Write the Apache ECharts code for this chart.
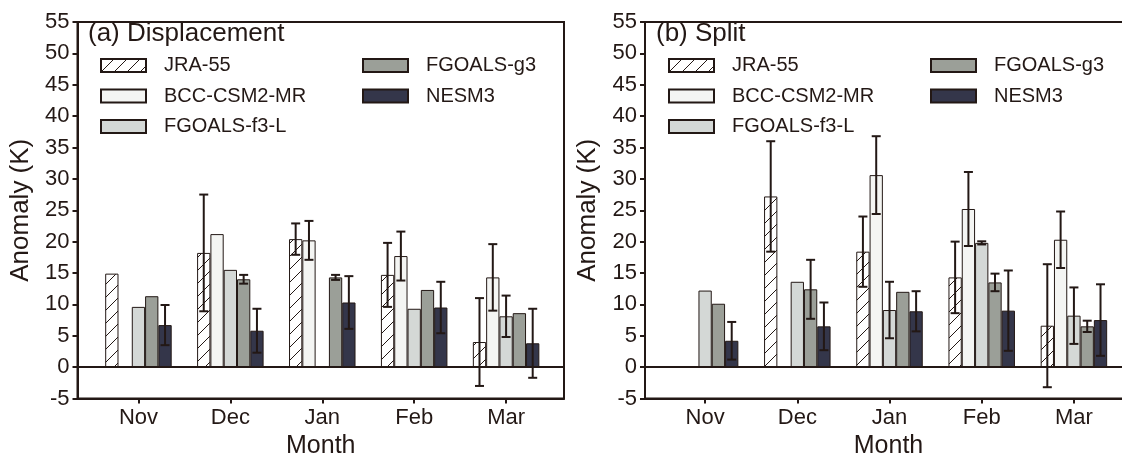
<!DOCTYPE html>
<html lang="en">
<head>
<meta charset="UTF-8">
<title>Anomaly by month</title>
<script src="https://cdn.jsdelivr.net/npm/echarts@6/dist/echarts.min.js"></script>
<style>
  html, body { margin: 0; padding: 0; background: #fff; }
  #main { width: 1122px; height: 457px; }
</style>
</head>
<body>
<div id="main"></div>
<script>
// categories
var months = ['Nov', 'Dec', 'Jan', 'Feb', 'Mar'];
var models = ['JRA-55', 'BCC-CSM2-MR', 'FGOALS-f3-L', 'FGOALS-g3', 'NESM3'];
var yTicks = [-5, 55, 5]; // min, max, step

// (a) Displacement: mean and error (null = no bar / no error bar)
var dispJRA     = [14.9, 18.2, 20.4, 14.7, 4.0];
var dispJRAErr  = [null, 9.3, 2.5, 5.1, 7.0];
var dispBCC     = [null, 21.2, 20.2, 17.7, 14.3];
var dispBCCErr  = [null, null, 3.1, 3.9, 5.3];
var dispF3L     = [9.6, 15.5, null, 9.3, 8.1];
var dispF3LErr  = [null, null, null, null, 3.3];
var dispG3      = [11.3, 14.0, 14.3, 12.3, 8.6];
var dispG3Err   = [null, 0.7, 0.4, null, null];
var dispNESM    = [6.7, 5.8, 10.3, 9.5, 3.8];
var dispNESMErr = [3.2, 3.5, 4.2, 4.1, 5.5];

// (b) Split
var splitJRA     = [null, 27.2, 18.4, 14.3, 6.6];
var splitJRAErr  = [null, 8.8, 5.6, 5.7, 9.8];
var splitBCC     = [null, null, 30.6, 25.2, 20.3];
var splitBCCErr  = [null, null, 6.2, 5.9, 4.5];
var splitF3L     = [12.2, 13.6, 9.1, 19.8, 8.2];
var splitF3LErr  = [null, null, 4.5, 0.25, 4.5];
var splitG3      = [10.1, 12.4, 12.0, 13.5, 6.5];
var splitG3Err   = [null, 4.7, null, 1.4, 0.9];
var splitNESM    = [4.2, 6.5, 8.9, 9.0, 7.5];
var splitNESMErr = [3.0, 3.8, 3.2, 6.4, 5.7];

var INK = '#231815';
var FONT = '"Liberation Sans", Arial, sans-serif';
var BAR_W = 13.3;

// hatch pattern for JRA-55
function hatch() {
    var s = 13;
    var c = document.createElement('canvas');
    c.width = s; c.height = s;
    var g = c.getContext('2d');
    g.fillStyle = '#ffffff';
    g.fillRect(0, 0, s, s);
    g.strokeStyle = INK;
    g.lineWidth = 1;
    g.beginPath();
    g.moveTo(0, s); g.lineTo(s, 0);
    g.moveTo(-1, 1); g.lineTo(1, -1);
    g.moveTo(s - 1, s + 1); g.lineTo(s + 1, s - 1);
    g.stroke();
    return { image: c, repeat: 'repeat' };
}
var fills = [hatch(), '#f4f5f3', '#d4d8d6', '#9b9f98', '#34364a'];

function pairs(vals) {
    return vals.map(function (v, i) { return [i + 1, v == null ? '-' : v]; });
}
function errRows(means, errs, k) {
    var out = [];
    for (var i = 0; i < means.length; i++) {
        if (means[i] != null && errs[i] != null) out.push([i + 1, means[i], errs[i], k]);
    }
    return out;
}

function renderErr(params, api) {
    var x = api.value(0), m = api.value(1), e = api.value(2), k = api.value(3);
    var hi = api.coord([x, m + e]);
    var lo = api.coord([x, m - e]);
    var cx = hi[0] + (k - 2) * BAR_W;
    var cap = 4.5;
    var st = { stroke: INK, lineWidth: 2 };
    return {
        type: 'group',
        children: [
            { type: 'line', shape: { x1: cx, y1: hi[1], x2: cx, y2: lo[1] }, style: st },
            { type: 'line', shape: { x1: cx - cap, y1: hi[1], x2: cx + cap, y2: hi[1] }, style: st },
            { type: 'line', shape: { x1: cx - cap, y1: lo[1], x2: cx + cap, y2: lo[1] }, style: st }
        ]
    };
}

function panelSeries(idx, means, errs) {
    var list = [];
    var errData = [];
    means.forEach(function (vals, k) {
        var s = {
            name: models[k],
            type: 'bar',
            xAxisIndex: idx,
            yAxisIndex: idx,
            barWidth: BAR_W,
            barGap: '0%',
            data: pairs(vals),
            itemStyle: { color: fills[k], borderColor: INK, borderWidth: 1 },
            emphasis: { disabled: true },
            z: 2
        };
        if (k === 0) {
            s.markLine = {
                silent: true,
                symbol: 'none',
                label: { show: false },
                lineStyle: { color: INK, width: 2, type: 'solid' },
                data: [{ yAxis: 0 }],
                z: 4
            };
        }
        list.push(s);
        errData = errData.concat(errRows(vals, errs[k], k));
    });
    list.push({
        type: 'custom',
        xAxisIndex: idx,
        yAxisIndex: idx,
        renderItem: renderErr,
        data: errData,
        encode: { x: 0, y: 1 },
        z: 5,
        silent: true
    });
    return list;
}

function xAx(idx, min) {
    return {
        type: 'value', gridIndex: idx, min: min, max: 5.63,
        name: 'Month', nameLocation: 'middle', nameGap: 30,
        nameTextStyle: { fontFamily: FONT, fontSize: 25, color: INK },
        axisLine: { onZero: false, lineStyle: { color: INK, width: 2 } },
        axisTick: { customValues: [1, 2, 3, 4, 5], length: 5, lineStyle: { color: INK, width: 2 } },
        axisLabel: {
            customValues: [1, 2, 3, 4, 5], margin: 8,
            fontFamily: FONT, fontSize: 22, color: INK,
            formatter: function (v) { return months[Math.round(v) - 1]; }
        },
        splitLine: { show: false }
    };
}
function yAx(idx) {
    return {
        type: 'value', gridIndex: idx, min: yTicks[0], max: yTicks[1], interval: yTicks[2],
        name: 'Anomaly (K)', nameLocation: 'middle', nameGap: 44,
        nameTextStyle: { fontFamily: FONT, fontSize: 26, color: INK },
        axisLine: { show: true, onZero: false, lineStyle: { color: INK, width: 2 } },
        axisTick: { show: true, length: 5, lineStyle: { color: INK, width: 2 } },
        axisLabel: { margin: 8, fontFamily: FONT, fontSize: 22, color: INK },
        splitLine: { show: false }
    };
}
function legendCol(names, left) {
    return {
        data: names, orient: 'vertical', left: left, top: 55.5, padding: 0,
        itemWidth: 45, itemHeight: 13, itemGap: 10.5, icon: 'rect',
        selectedMode: false,
        textStyle: { fontFamily: FONT, fontSize: 20, lineHeight: 20, color: INK, padding: [0, 0, 0, 13] }
    };
}

var chart = echarts.init(document.getElementById('main'), null, { renderer: 'canvas' });
chart.setOption({
    backgroundColor: '#ffffff',
    animation: false,
    title: [
        { text: '(a) Displacement', left: 88, top: 21, padding: 0,
          textStyle: { fontFamily: FONT, fontSize: 26, fontWeight: 'normal', color: INK } },
        { text: '(b) Split', left: 656, top: 21, padding: 0,
          textStyle: { fontFamily: FONT, fontSize: 26, fontWeight: 'normal', color: INK } }
    ],
    legend: [
        legendCol(models.slice(0, 3), 100),
        legendCol(models.slice(3), 362),
        legendCol(models.slice(0, 3), 668),
        legendCol(models.slice(3), 930)
    ],
    grid: [
        { left: 77.5, right: 558, top: 22, bottom: 58.5, outerBoundsMode: 'none', containLabel: false,
          show: true, borderColor: INK, borderWidth: 2, backgroundColor: 'transparent' },
        { left: 645, right: -10, top: 22, bottom: 58.5, outerBoundsMode: 'none', containLabel: false,
          show: true, borderColor: INK, borderWidth: 2, backgroundColor: 'transparent' }
    ],
    xAxis: [xAx(0, 0.337), xAx(1, 0.348)],
    yAxis: [yAx(0), yAx(1)],
    series: panelSeries(0,
        [dispJRA, dispBCC, dispF3L, dispG3, dispNESM],
        [dispJRAErr, dispBCCErr, dispF3LErr, dispG3Err, dispNESMErr]
    ).concat(panelSeries(1,
        [splitJRA, splitBCC, splitF3L, splitG3, splitNESM],
        [splitJRAErr, splitBCCErr, splitF3LErr, splitG3Err, splitNESMErr]
    ))
});
</script>
</body>
</html>
